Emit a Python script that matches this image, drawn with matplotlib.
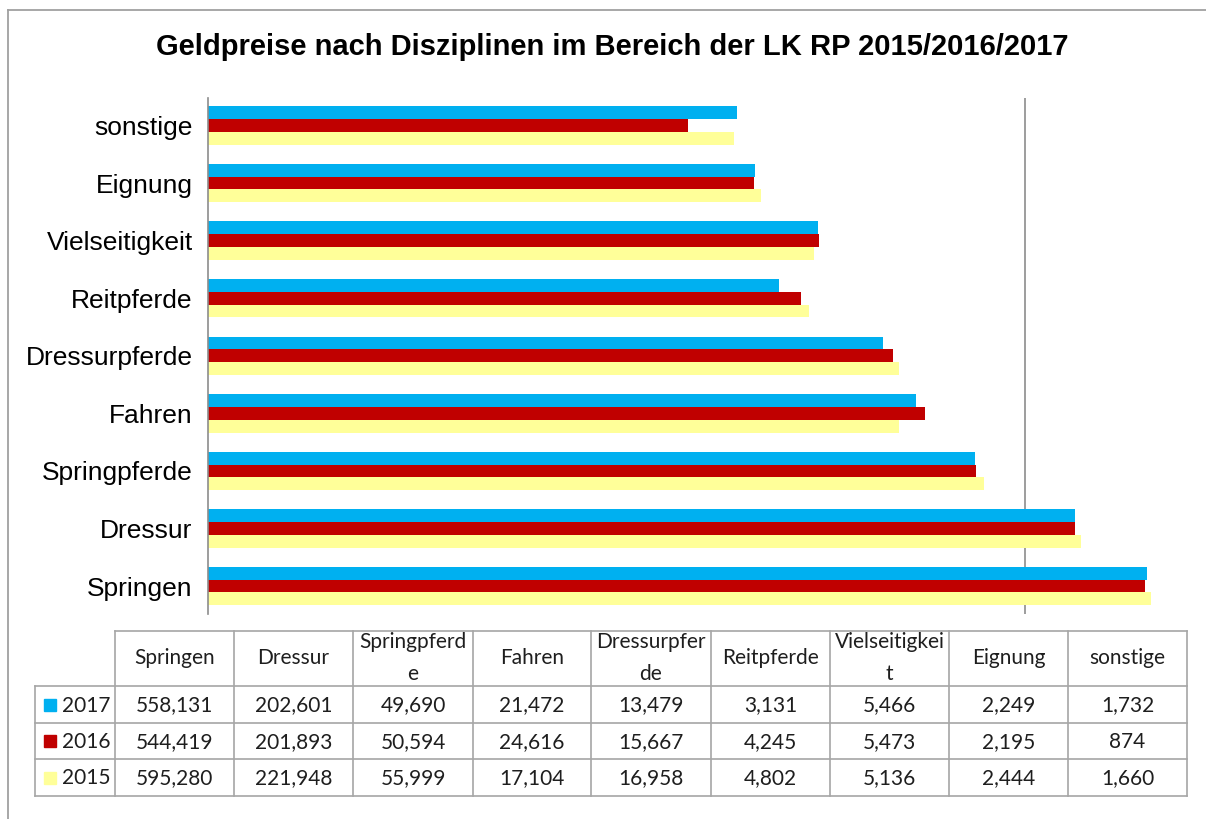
import matplotlib
matplotlib.use("Agg")
import matplotlib.pyplot as plt
from matplotlib.lines import Line2D
from matplotlib.patches import Rectangle
import numpy as np

# data (bottom to top in the chart = table order left to right)
categories = ["Springen", "Dressur", "Springpferde", "Fahren", "Dressurpferde",
              "Reitpferde", "Vielseitigkeit", "Eignung", "sonstige"]
header_labels = ["Springen", "Dressur", "Springpferd\ne", "Fahren", "Dressurpfer\nde",
                 "Reitpferde", "Vielseitigkei\nt", "Eignung", "sonstige"]
years = ["2017", "2016", "2015"]
v2017 = [558131, 202601, 49690, 21472, 13479, 3131, 5466, 2249, 1732]
v2016 = [544419, 201893, 50594, 24616, 15667, 4245, 5473, 2195, 874]
v2015 = [595280, 221948, 55999, 17104, 16958, 4802, 5136, 2444, 1660]
colors = ["#00B0F0", "#C00000", "#FFFF99"]

W, H = 1206, 819
fig = plt.figure(figsize=(W / 100, H / 100), dpi=100)

# plot area in pixels: x 208..1188, y 98..614
ax = fig.add_axes([208 / W, 1 - 614 / H, (1188 - 208) / W, (614 - 98) / H])

y = np.arange(len(categories))
bh = 0.222
for vals, col, off in zip([v2017, v2016, v2015], colors, [bh, 0, -bh]):
    ax.barh(y + off, np.array(vals) - 1, left=1, height=bh, color=col, edgecolor="none")

ax.set_xscale("log")
ax.set_xlim(1, 1e6)
ax.set_ylim(-0.486, 8.478)
ax.axvline(1e5, color="#8c8c8c", lw=1.2, zorder=0)
for s in ["top", "right", "bottom"]:
    ax.spines[s].set_visible(False)
ax.spines["left"].set_color("#8c8c8c")
ax.spines["left"].set_linewidth(1.2)
ax.set_xticks([])
ax.xaxis.set_minor_locator(matplotlib.ticker.NullLocator())
ax.set_yticks(y)
ax.set_yticklabels(categories, fontsize=19, family="Liberation Sans")
ax.tick_params(axis="y", length=0, pad=11)

# title
fig.text(612 / W, 1 - 47 / H, "Geldpreise nach Disziplinen im Bereich der LK RP 2015/2016/2017",
         ha="center", va="center", fontsize=21, fontweight="bold", family="Liberation Sans")

# overlay in pixel coordinates for frame and data table
ov = fig.add_axes([0, 0, 1, 1], zorder=5)
ov.set_xlim(0, W)
ov.set_ylim(H, 0)
ov.axis("off")

gray = "#a0a0a0"
ov.add_line(Line2D([8, W], [10, 10], color=gray, lw=1.3))
ov.add_line(Line2D([8, 8], [10, H], color=gray, lw=1.3))

col_edges = [115, 234, 353, 473, 591, 711, 830, 949, 1068, 1187]
row_edges = [631, 686, 723, 759, 796]
tcol = "#a6a6a6"
tfont = dict(family="Lato", fontsize=15, color="#1e1e1e")

# horizontal lines
ov.add_line(Line2D([col_edges[0], col_edges[-1]], [row_edges[0]] * 2, color=tcol, lw=1.2))
for ry in row_edges[1:]:
    ov.add_line(Line2D([35, col_edges[-1]], [ry] * 2, color=tcol, lw=1.2))
# vertical lines
ov.add_line(Line2D([35, 35], [row_edges[1], row_edges[-1]], color=tcol, lw=1.2))
for cx in col_edges:
    ov.add_line(Line2D([cx, cx], [row_edges[0], row_edges[-1]], color=tcol, lw=1.2))

# header
hy = (row_edges[0] + row_edges[1]) / 2
for i, lab in enumerate(header_labels):
    cx = (col_edges[i] + col_edges[i + 1]) / 2
    ov.text(cx, hy, lab, ha="center", va="center", linespacing=1.75, **tfont)

# rows
for r, (yr, vals, col) in enumerate(zip(years, [v2017, v2016, v2015], colors)):
    cy = (row_edges[r + 1] + row_edges[r + 2]) / 2
    ov.add_patch(Rectangle((44, cy - 6), 12, 12, color=col))
    ov.text(62, cy + 1, yr, ha="left", va="center", **tfont)
    for i, v in enumerate(vals):
        cx = (col_edges[i] + col_edges[i + 1]) / 2
        ov.text(cx, cy + 1, f"{v:,}", ha="center", va="center", **tfont)

fig.savefig("out.png", dpi=100)
